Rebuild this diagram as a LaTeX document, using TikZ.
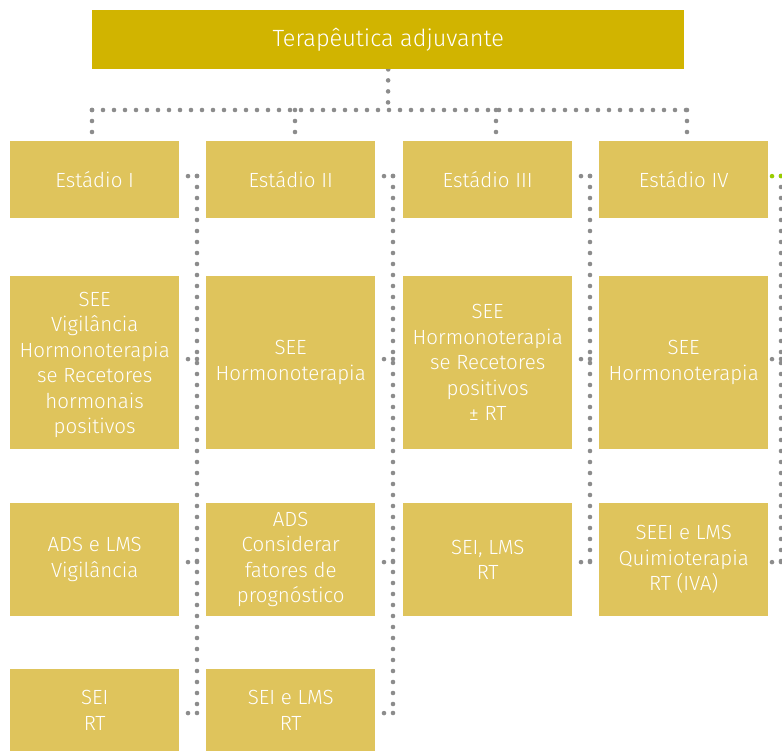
\documentclass[tikz,border=0pt]{standalone}
\usepackage{fontspec}
\setmainfont{Fira Sans Light}
\usetikzlibrary{backgrounds}
\definecolor{gold}{HTML}{D1B400}
\definecolor{sand}{HTML}{DFC45C}
\definecolor{dotgray}{HTML}{8C8C8C}
\definecolor{lime}{HTML}{99CC00}
\begin{document}
\begin{tikzpicture}[x=1pt,y=-1pt,
  box/.style={fill=sand, text=white, align=center, anchor=north west,
    minimum width=169pt, inner sep=0pt,
    font=\fontsize{20.5}{25.5}\selectfont},
  headbox/.style={fill=gold, text=white, anchor=north west,
    minimum width=592pt, minimum height=59pt, inner sep=0pt,
    font=\fontsize{23.5}{28}\selectfont},
  dots/.style={draw=dotgray, line width=4.6pt, line cap=round,
    dash pattern=on 0pt off 11pt},
  tick/.style={dots, dash pattern=on 0pt off 9pt}]
\useasboundingbox (0,0) rectangle (782,751);

% title
\node[headbox] (top) at (92,10) {Terapêutica adjuvante};

% stage headers
\node[box, minimum height=77pt] (s1) at (10,141)  {Estádio I};
\node[box, minimum height=77pt] (s2) at (206,141) {Estádio II};
\node[box, minimum height=77pt] (s3) at (403,141) {Estádio III};
\node[box, minimum height=77pt] (s4) at (599,141) {Estádio IV};

% second row
\node[box, minimum height=173pt, text depth=-3pt] (a1) at (10,276)
  {SEE\\Vigilância\\Hormonoterapia\\se Recetores\\hormonais\\positivos};
\node[box, minimum height=173pt] (a2) at (206,276) {SEE\\Hormonoterapia};
\node[box, minimum height=173pt] (a3) at (403,276)
  {SEE\\Hormonoterapia\\se Recetores\\positivos\\± RT};
\node[box, minimum height=173pt] (a4) at (599,276) {SEE\\Hormonoterapia};

% third row
\node[box, minimum height=113pt] (b1) at (10,503)  {ADS e LMS\\Vigilância};
\node[box, minimum height=113pt] (b2) at (206,503)
  {ADS\\Considerar\\fatores de\\prognóstico};
\node[box, minimum height=113pt] (b3) at (403,503) {SEI, LMS\\RT};
\node[box, minimum height=113pt] (b4) at (599,503)
  {SEEI e LMS\\Quimioterapia\\RT (IVA)};

% fourth row
\node[box, minimum height=82pt] (c1) at (10,669)  {SEI\\RT};
\node[box, minimum height=82pt] (c2) at (206,669) {SEI e LMS\\RT};

% junction points of the tree
\coordinate (hub) at (388,110);
\coordinate (j1) at (92,110);
\coordinate (j2) at (295,110);
\coordinate (j3) at (496,110);
\coordinate (j4) at (687,110);

% spines beside each column
\coordinate (k1) at (197,176);
\coordinate (k2) at (393,176);
\coordinate (k3) at (590,176);
\coordinate (k4) at (781,176);

\begin{scope}[on background layer]
  \draw[dots] (top.south) -- (hub);
  \draw[dots] (j1) -- (j4);
  \foreach \j/\s in {j1/s1, j2/s2, j3/s3, j4/s4}
    \draw[dots] (\j) -- (\j |- \s.north);

  \draw[dots] (k1) -- (197,713);
  \draw[dots] (k2) -- (393,713);
  \draw[dots] (k3) -- (590,562);
  \draw[dots] (k4) -- (781,562);

  % column 1
  \draw[tick] (k1) -- ([yshift=3.5pt]s1.east);
  \draw[tick] (k1 |- 0,359) -- ([yshift=3.5pt]a1.east);
  \draw[tick] (k1 |- 0,562) -- ([yshift=-2.5pt]b1.east);
  \draw[tick] (k1 |- 0,713) -- ([yshift=-3pt]c1.east);
  % column 2
  \draw[tick] (k2) -- ([yshift=3.5pt]s2.east);
  \draw[tick] (k2 |- 0,359) -- ([yshift=3.5pt]a2.east);
  \draw[tick] (k2 |- 0,562) -- ([yshift=-2.5pt]b2.east);
  \draw[tick] (k2 |- 0,713) -- ([yshift=-3pt]c2.east);
  % column 3
  \draw[tick] (k3) -- ([yshift=3.5pt]s3.east);
  \draw[tick] (k3 |- 0,359) -- ([yshift=3.5pt]a3.east);
  \draw[tick] (k3 |- 0,562) -- ([yshift=-2.5pt]b3.east);
  % column 4
  \draw[tick, draw=lime] (k4) -- ([yshift=3.5pt]s4.east);
  \draw[tick] (k4 |- 0,359) -- ([yshift=3.5pt]a4.east);
  \draw[tick] (k4 |- 0,562) -- ([yshift=-2.5pt]b4.east);
\end{scope}
\end{tikzpicture}
\end{document}
